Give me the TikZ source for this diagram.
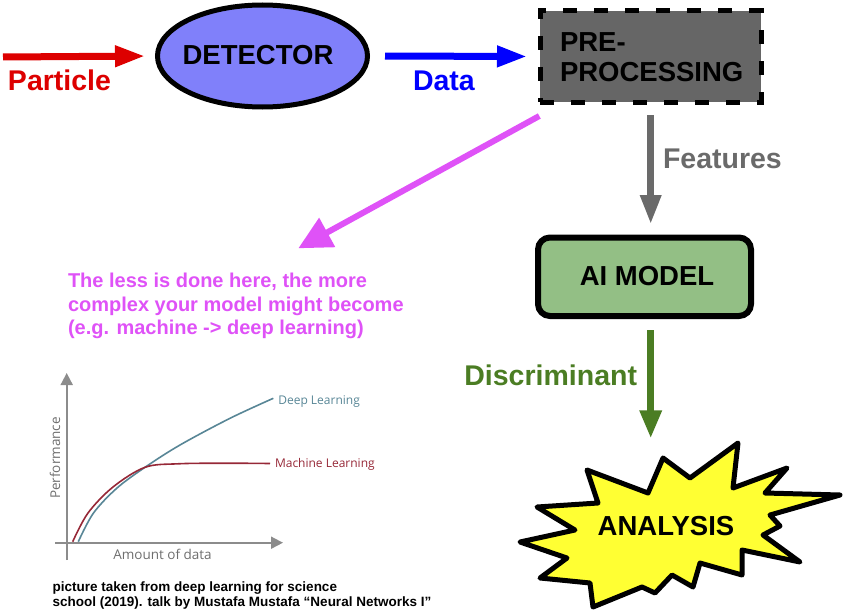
\documentclass[tikz,border=0pt]{standalone}
\usepackage{fontspec}
\setmainfont{Liberation Sans}
\newfontfamily\chartfont{Open Sans}
\usetikzlibrary{arrows.meta,calc,shapes.geometric}

\definecolor{partred}{RGB}{221,0,0}
\definecolor{datablue}{RGB}{0,0,255}
\definecolor{detfill}{RGB}{128,128,250}
\definecolor{prefill}{RGB}{102,102,102}
\definecolor{featgray}{RGB}{106,106,106}
\definecolor{aifill}{RGB}{147,191,133}
\definecolor{discgreen}{RGB}{75,125,35}
\definecolor{notemag}{RGB}{223,82,247}
\definecolor{burstyellow}{RGB}{255,255,51}
\definecolor{axisgray}{RGB}{140,140,140}
\definecolor{labelgray}{RGB}{110,110,110}
\definecolor{dlteal}{RGB}{88,134,150}
\definecolor{mlred}{RGB}{150,40,55}

\newcommand{\bigfont}{\fontsize{27.5}{32}\selectfont\bfseries}
\newcommand{\labfont}{\fontsize{28.5}{32}\selectfont\bfseries}
\newcommand{\notefont}{\fontsize{20}{23.5}\selectfont\bfseries}
\newcommand{\citefont}{\fontsize{13.5}{15}\selectfont\bfseries}
\newcommand{\axisfont}{\chartfont\fontsize{13.5}{15}\selectfont}
\newcommand{\curvefont}{\chartfont\fontsize{12}{14}\selectfont}

\begin{document}
\begin{tikzpicture}[x=1pt,y=-1pt,
  txt/.style={inner sep=0pt, outer sep=0pt},
  flowarrow/.style={line width=7pt, -{Triangle[length=30pt,width=20pt]}},
  axisline/.style={draw=axisgray, line width=1.8pt, -{Triangle[length=12pt,width=12pt]}},
  curve/.style={line width=1.6pt, smooth, tension=0.55}]
\useasboundingbox (0,0) rectangle (843,610);

% ---- main chain -------------------------------------------------------
\node[ellipse, draw, line width=5pt, fill=detfill, minimum width=210pt,
      minimum height=102pt, inner sep=0pt] (det) at (262.5,56) {};
\node[txt, anchor=base, font=\bigfont] (dettxt) at (258,65) {DETECTOR};

\node[rectangle, draw, line width=5pt, dash pattern=on 14pt off 17pt,
      fill=prefill, minimum width=221pt, minimum height=91pt, inner sep=0pt]
      (pre) at (650.5,56.5) {};
\node[txt, anchor=base west, font=\bigfont] (pretxta) at (560,52) {PRE-};
\node[txt, anchor=base west, font=\bigfont] (pretxtb) at (560,81.5) {PROCESSING};

\node[rectangle, draw, rounded corners=12pt, line width=6pt, fill=aifill,
      minimum width=213pt, minimum height=78.5pt, inner sep=0pt]
      (ai) at (644.5,276.75) {};
\node[txt, anchor=base, font=\bigfont] (aitxt) at (647,285.5) {AI MODEL};

% starburst
\draw[line width=5pt, line join=round, fill=burstyellow]
  (520,542) -- (575,530) -- (537,507) -- (598,503) -- (587,470) -- (648,493)
  -- (663,458) -- (690,478) -- (738,443) -- (733,488) -- (787,468)
  -- (765,493) -- (840,495) -- (770,515) -- (780,526) -- (763,535)
  -- (800,562) -- (742,550) -- (742,575) -- (700,563) -- (693,587)
  -- (672,575) -- (655,593) -- (642,587) -- (593,607) -- (590,583)
  -- (540,578) -- (567,558) -- cycle;
\node[txt, anchor=base, font=\bigfont] (analysis) at (666,535) {ANALYSIS};

% arrow end points
\coordinate (src) at (3,57);
\coordinate (magA) at (539.3,116);
\coordinate (magB) at (298.3,248.3);
\coordinate (burstTop) at (650.7,438.3);

% connectors
\draw[flowarrow, draw=partred, fill=partred, shorten >=10pt] (src) -- (det.west);
\draw[flowarrow, draw=datablue, fill=datablue, shorten <=15pt, shorten >=10.5pt]
  (det.east) -- (pre.west);
\draw[line width=6.5pt, draw=featgray, -{Triangle[length=29pt,width=20pt]},
      shorten <=10.5pt, shorten >=10.5pt]
  ([xshift=0.2pt]pre.south) -- ([xshift=0.2pt]pre.south |- ai.north);
\draw[line width=6.5pt, draw=discgreen, -{Triangle[length=28pt,width=21pt]},
      shorten <=11pt]
  (ai.south -| burstTop) -- (burstTop);
\draw[line width=6pt, draw=notemag, -{Triangle[length=33pt,width=32pt]}]
  (magA) -- (magB);

% labels on connectors
\node[txt, anchor=base west, font=\labfont, text=partred] (ptxt) at (8,90.5) {Particle};
\node[txt, anchor=base west, font=\labfont, text=datablue] (dtxt) at (413,90.5) {Data};
\node[txt, anchor=base west, font=\labfont, text=featgray] (ftxt) at (663,168) {Features};
\node[txt, anchor=base east, font=\labfont, text=discgreen] (disctxt) at (637,385) {Discriminant};

% note
\node[txt, anchor=base west, font=\notefont, text=notemag] (notea) at (68,287.3)
  {The less is done here, the more};
\node[txt, anchor=base west, font=\notefont, text=notemag] (noteb) at (68,311)
  {complex your model might become};
\node[txt, anchor=base west, font=\notefont, text=notemag] (notec) at (68,334.5)
  {(e.g. machine -> deep learning)};

% ---- performance chart -----------------------------------------------
\coordinate (yaxA) at (66.7,560);
\coordinate (yaxB) at (66.7,373);
\coordinate (xaxA) at (55,542.7);
\coordinate (xaxB) at (283,542.7);
\draw[axisline] (yaxA) -- (yaxB);
\draw[axisline] (xaxA) -- (xaxB);

\draw[curve, draw=dlteal] plot coordinates {(78.3,541.7) (93.3,513.3) (116.7,488.3)
  (145,467.3) (180,445) (230,418.3) (273.3,398.3)};
\draw[curve, draw=mlred] plot coordinates {(72.7,541.7) (88,513) (113,487)
  (145,467.3) (178,463.8) (225,463.2) (270,463.5)};

\node[txt, anchor=base west, font=\curvefont, text=dlteal] (dllab) at (278.3,404) {Deep Learning};
\node[txt, anchor=base west, font=\curvefont, text=mlred] (mllab) at (275,467.3) {Machine Learning};
\node[txt, anchor=base west, font=\axisfont, text=labelgray] (xlab) at (113.3,559.3) {Amount of data};
\node[txt, anchor=base, rotate=90, font=\axisfont, text=labelgray] (ylab) at (60,458) {Performance};

% source line
\node[txt, anchor=base west, font=\citefont] (cita) at (52.7,591)
  {picture taken from deep learning for science};
\node[txt, anchor=base west, font=\citefont] (citb) at (52.7,606)
  {school (2019). talk by Mustafa Mustafa “Neural Networks I”};
\end{tikzpicture}
\end{document}
